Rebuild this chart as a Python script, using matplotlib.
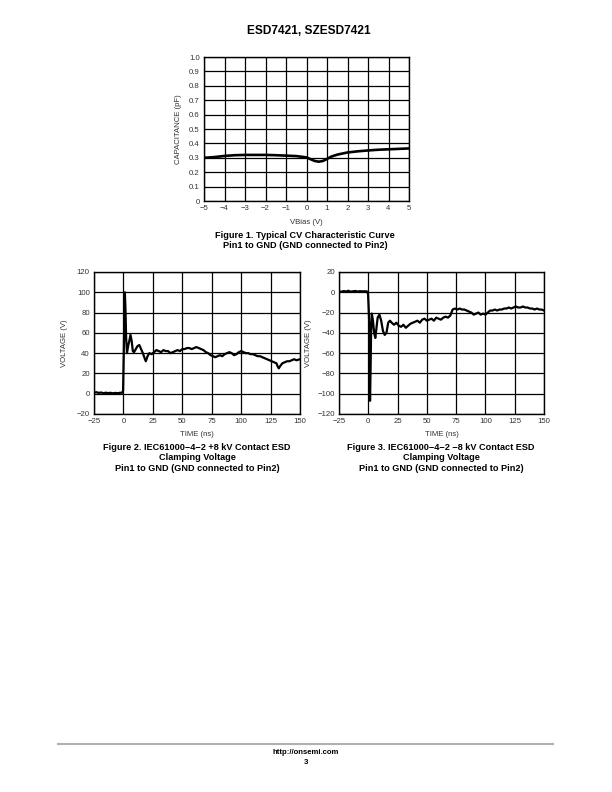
import matplotlib
matplotlib.use("Agg")
import matplotlib.pyplot as plt
from matplotlib.lines import Line2D

plt.rcParams['font.family'] = ['Liberation Sans', 'DejaVu Sans']
plt.rcParams['axes.unicode_minus'] = True

# ---------------- data ----------------
cv_bias = [-5, -4.5, -4, -3.5, -3, -2.5, -2, -1.5, -1, -0.5, 0, 0.2, 0.4, 0.6, 0.8, 1.0, 1.2, 1.5, 2, 2.5, 3, 3.5, 4, 4.5, 5]
cv_cap = [0.300, 0.305, 0.313, 0.318, 0.320, 0.320, 0.320, 0.318, 0.315, 0.312, 0.303, 0.290, 0.278, 0.273, 0.278, 0.292, 0.308, 0.322, 0.337, 0.345, 0.351, 0.356, 0.359, 0.362, 0.365]

pos_t = [-25, -23, -21, -19, -17, -15, -13, -11, -9, -7, -5, -3, -1, -0.3, 0.3, 0.8, 1.2, 1.7, 2.3, 3.0, 4.0, 5.0, 6.0, 7.0, 8.0, 9.0, 10.5, 12.0, 13.5, 15.0, 16.5, 18.0, 19.0, 20.5, 22, 24, 26, 28, 30, 32, 34, 36, 38, 40, 42, 44, 46, 48, 50, 52, 54, 56, 58, 60, 62, 64, 66, 68, 70, 72, 74, 76, 78, 80, 82, 84, 86, 88, 90, 92, 94, 96, 98, 100, 102, 104, 106, 108, 110, 112, 114, 116, 118, 120, 122, 124, 126, 128, 130, 131, 132, 133, 135, 137, 139, 141, 143, 145, 147, 150]
pos_v = [1, 1.5, 0.8, 1.2, 0.5, 1.0, 0.6, 0.9, 0.4, 0.8, 0.5, 0.9, 1.0, 3, 40, 80, 100, 85, 55, 40, 47, 52, 58, 52, 42, 41, 44, 47, 48, 44, 40, 35, 32, 37, 40, 39, 41, 43, 42, 41, 43, 42, 42, 40, 41, 42, 43, 42, 44, 44, 45, 45, 44, 45, 46, 45, 44, 43, 41, 40, 38, 37, 36, 37, 38, 37, 39, 40, 41, 40, 38, 39, 41, 42, 41, 40, 40, 39, 39, 38, 37, 37, 36, 35, 34, 33, 32, 31, 30, 27, 25, 27, 30, 31, 32, 32, 33, 34, 33, 34]

neg_t = [-25, -23, -21, -19, -17, -15, -13, -11, -9, -7, -5, -3, -1, -0.2, 0.3, 0.8, 1.1, 1.5, 1.9, 2.4, 3.0, 4.0, 5.0, 6.0, 7.0, 8.0, 9.5, 11, 12.5, 14, 15.5, 17, 18.5, 20, 22, 24, 26, 28, 30, 32, 34, 36, 38, 40, 42, 44, 46, 48, 50, 52, 54, 56, 58, 60, 62, 64, 66, 68, 70, 71, 72, 74, 76, 78, 80, 82, 84, 86, 88, 90, 92, 94, 96, 98, 100, 102, 104, 106, 108, 110, 112, 114, 116, 118, 120, 122, 124, 126, 128, 130, 132, 134, 136, 138, 140, 142, 144, 146, 148, 150]
neg_v = [1, 0.5, 1.2, 0.8, 1.5, 0.6, 1.0, 1.3, 0.7, 1.1, 0.9, 1.0, 0.8, -2, -15, -30, -75, -107, -80, -40, -21, -28, -40, -45, -35, -25, -22, -28, -38, -42, -40, -30, -28, -30, -32, -30, -33, -34, -32, -35, -33, -31, -30, -29, -28, -30, -27, -26, -28, -27, -26, -28, -25, -26, -27, -25, -24, -25, -23, -20, -17, -16, -17, -16, -17, -17, -18, -19, -20, -22, -21, -20, -22, -21, -22, -20, -18, -18, -17, -18, -17, -17, -16, -16, -15, -16, -15, -14, -15, -15, -14, -15, -15, -16, -16, -17, -16, -17, -17, -18]

cv_xticks = [-5, -4, -3, -2, -1, 0, 1, 2, 3, 4, 5]
cv_yticks = [0, 0.1, 0.2, 0.3, 0.4, 0.5, 0.6, 0.7, 0.8, 0.9, 1.0]
t_ticks = [-25, 0, 25, 50, 75, 100, 125, 150]
pos_yticks = [-20, 0, 20, 40, 60, 80, 100, 120]
neg_yticks = [-120, -100, -80, -60, -40, -20, 0, 20]

TICK_FS = 5.6
LAB_FS = 5.6
CAP_FS = 6.6
TICK_COLOR = '#333333'

def fmt(v, dec=0):
    s = f"{v:.{dec}f}" if dec else f"{int(v)}"
    return s.replace('-', '\u2212')

fig = plt.figure(figsize=(6.12, 7.92), dpi=100)

def style_axes(ax, xticks, yticks, xlim, ylim, xdec=0, ydec=0):
    ax.set_xlim(*xlim)
    ax.set_ylim(*ylim)
    ax.set_xticks(xticks)
    ax.set_yticks(yticks)
    ax.set_xticklabels([fmt(v, xdec) for v in xticks], fontsize=TICK_FS, color=TICK_COLOR)
    ylabels = []
    for v in yticks:
        if ydec and v == 0:
            ylabels.append('0')
        else:
            ylabels.append(fmt(v, ydec))
    ax.set_yticklabels(ylabels, fontsize=TICK_FS, color=TICK_COLOR)
    ax.tick_params(length=0, pad=3)
    ax.grid(True, color='black', linewidth=0.9)
    for sp in ax.spines.values():
        sp.set_linewidth(1.0)
        sp.set_color('black')

# Figure 1
ax1 = fig.add_axes([204/612, 1-201/792, 205/612, 144/792])
ax1.plot(cv_bias, cv_cap, color='black', linewidth=1.9)
style_axes(ax1, cv_xticks, cv_yticks, (-5, 5), (0, 1.0), 0, 1)
ax1.set_xlabel('VBias (V)', fontsize=LAB_FS, color=TICK_COLOR, labelpad=5)
ax1.set_ylabel('CAPACITANCE (pF)', fontsize=LAB_FS, color=TICK_COLOR, labelpad=5)

# Figure 2
ax2 = fig.add_axes([94/612, 1-414/792, 206/612, 142/792])
ax2.plot(pos_t, pos_v, color='black', linewidth=1.6)
style_axes(ax2, t_ticks, pos_yticks, (-25, 150), (-20, 120))
ax2.set_xlabel('TIME (ns)', fontsize=LAB_FS, color=TICK_COLOR, labelpad=4)
ax2.set_ylabel('VOLTAGE (V)', fontsize=LAB_FS, color=TICK_COLOR, labelpad=6)

# Figure 3
ax3 = fig.add_axes([339/612, 1-414/792, 205/612, 142/792])
ax3.plot(neg_t, neg_v, color='black', linewidth=1.6)
style_axes(ax3, t_ticks, neg_yticks, (-25, 150), (-120, 20))
ax3.set_xlabel('TIME (ns)', fontsize=LAB_FS, color=TICK_COLOR, labelpad=4)
ax3.set_ylabel('VOLTAGE (V)', fontsize=LAB_FS, color=TICK_COLOR, labelpad=4)

def ftext(x_px, y_px, s, size, weight='bold'):
    fig.text(x_px/612, 1-y_px/792, s, ha='center', va='center', fontsize=size, fontweight=weight, color='black')

ftext(309, 31, 'ESD7421, SZESD7421', 8.6)
ftext(305, 235, 'Figure 1. Typical CV Characteristic Curve', CAP_FS)
ftext(305, 245, 'Pin1 to GND (GND connected to Pin2)', CAP_FS)

ftext(197, 447, 'Figure 2. IEC61000\u22124\u22122 +8 kV Contact ESD', CAP_FS)
ftext(197, 458, 'Clamping Voltage', CAP_FS)
ftext(197, 469, 'Pin1 to GND (GND connected to Pin2)', CAP_FS)

ftext(441, 447, 'Figure 3. IEC61000\u22124\u22122 \u22128 kV Contact ESD', CAP_FS)
ftext(441, 458, 'Clamping Voltage', CAP_FS)
ftext(441, 469, 'Pin1 to GND (GND connected to Pin2)', CAP_FS)

fig.add_artist(Line2D([58/612, 553/612], [1-744/792, 1-744/792], color='#b0b0b0', linewidth=1.5, transform=fig.transFigure))
ftext(306, 752, 'http://onsemi.com', 5.6)
ftext(306, 762, '3', 5.6)

fig.savefig('out.png', dpi=100)
